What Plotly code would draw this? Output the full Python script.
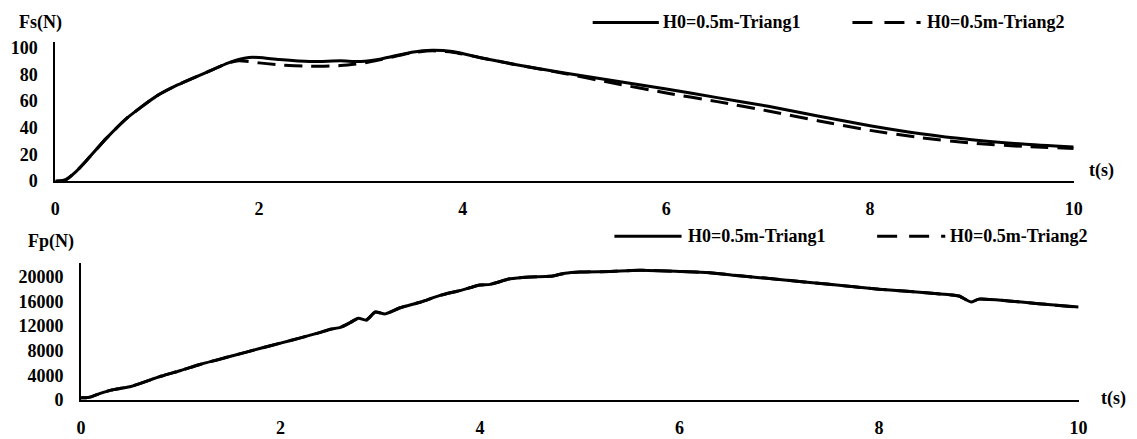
import plotly.graph_objects as go

# ---------------- data ----------------
t_fs1 = [0, 0.1, 0.2, 0.3, 0.5, 0.7, 1.0, 1.2, 1.5, 1.7, 1.8, 1.9, 2.0, 2.2, 2.5, 2.8, 3.0,
         3.2, 3.5, 3.7, 3.9, 4.2, 4.5, 5.0, 5.5, 6.0, 6.5, 7.0, 7.5, 8.0, 8.5, 9.0, 9.5, 10.0]
fs_triang1 = [0, 1, 7, 15, 32, 47, 64, 72, 82, 88.5, 91, 92.5, 92.5, 91, 89.5, 90, 89.5,
              91.5, 96.5, 98, 97, 92, 87.5, 81, 75, 69, 62.5, 56, 48.5, 41.5, 35.5, 31, 27.8, 25.5]
fs_triang2 = [0, 1, 7, 15, 32, 47, 64, 72, 82, 88.5, 90, 89.5, 88.5, 87, 86, 86.5, 88,
              91, 96, 97.5, 96.5, 92, 87.5, 80.5, 73, 66, 59.5, 52.5, 45, 38, 32.5, 28.5, 26, 24.5]

t_fp = [0, 0.05, 0.1, 0.2, 0.3, 0.4, 0.5, 0.8, 1.0, 1.2, 1.5, 1.8, 2.0, 2.2, 2.4, 2.5, 2.6,
        2.7, 2.78, 2.86, 2.95, 3.05, 3.2, 3.4, 3.6, 3.8, 4.0, 4.1, 4.3, 4.5, 4.7, 4.85, 5.0,
        5.3, 5.6, 6.0, 6.3, 6.6, 7.0, 7.5, 8.0, 8.5, 8.8, 8.92, 9.0, 9.3, 9.6, 10.0]
fp_triang1 = [350, 350, 500, 1100, 1600, 1900, 2200, 3850, 4800, 5800, 7100, 8400, 9250, 10100,
              11000, 11500, 11800, 12600, 13300, 13000, 14300, 14000, 15000, 15900, 17000, 17800,
              18700, 18800, 19700, 20000, 20100, 20600, 20800, 20900, 21100, 20900, 20700, 20200,
              19600, 18800, 18000, 17400, 16900, 15950, 16400, 16100, 15650, 15100]
fp_triang2 = list(fp_triang1)

series_names = ["H0=0.5m-Triang1", "H0=0.5m-Triang2"]
fs_ticks = [0, 20, 40, 60, 80, 100]
fp_ticks = [0, 4000, 8000, 12000, 16000, 20000]
t_ticks = [0, 2, 4, 6, 8, 10]

# ---------------- figure ----------------
W, H = 1137, 439
FONT = "Liberation Serif"
fsz = 18

def px(x):
    return x / W

def py(y):
    return (H - y) / H

fig = go.Figure()
solid = dict(color="black", width=3, shape="spline", smoothing=0.6)
dashed = dict(color="black", width=3, shape="spline", smoothing=0.6, dash="18px,9px")
fig.add_trace(go.Scatter(x=t_fs1, y=fs_triang1, mode="lines", name=series_names[0],
                         line=solid, xaxis="x", yaxis="y", showlegend=False))
fig.add_trace(go.Scatter(x=t_fs1, y=fs_triang2, mode="lines", name=series_names[1],
                         line=dashed, xaxis="x", yaxis="y", showlegend=False))
fig.add_trace(go.Scatter(x=t_fp, y=fp_triang1, mode="lines", name=series_names[0],
                         line=solid, xaxis="x2", yaxis="y2", showlegend=False))
fig.add_trace(go.Scatter(x=t_fp, y=fp_triang2, mode="lines", name=series_names[1],
                         line=dashed, xaxis="x2", yaxis="y2", showlegend=False))

tickfont = dict(family=FONT, size=fsz, color="black", weight="bold")
common_x = dict(range=[0, 10], tickvals=t_ticks, showline=True, linecolor="black", linewidth=2,
                showgrid=False, zeroline=False, ticks="", tickfont=tickfont, ticklabelstandoff=10,
                fixedrange=True)
common_y = dict(showline=True, linecolor="black", linewidth=2, showgrid=False, zeroline=False,
                ticks="", tickfont=tickfont, ticklabelstandoff=12, fixedrange=True, tickformat="d")

fig.update_layout(
    width=W, height=H,
    margin=dict(l=0, r=0, t=0, b=0),
    paper_bgcolor="white", plot_bgcolor="white",
    xaxis=dict(domain=[px(51), px(1082)], anchor="y", **common_x),
    yaxis=dict(domain=[py(183), py(39)], anchor="x", range=[0, 104.3], tickvals=fs_ticks, **common_y),
    xaxis2=dict(domain=[px(77), px(1087)], anchor="y2", **common_x),
    yaxis2=dict(domain=[py(409), py(268)], anchor="x2", range=[0, 22200], tickvals=fp_ticks,
                **common_y),
    showlegend=False,
)

# legend (manual) + titles
ann_font = dict(family=FONT, size=fsz, color="black", weight="bold")
shapes = []
annotations = []

def legend_row(y, solid_x0, solid_x1, solid_tx, dash_x0, dash_x1, dash_tx):
    shapes.append(dict(type="line", xref="paper", yref="paper", x0=px(solid_x0), x1=px(solid_x1),
                       y0=py(y), y1=py(y), line=dict(color="black", width=3)))
    shapes.append(dict(type="line", xref="paper", yref="paper", x0=px(dash_x0), x1=px(dash_x1),
                       y0=py(y), y1=py(y), line=dict(color="black", width=3, dash="20px,12px")))
    annotations.append(dict(text=series_names[0], xref="paper", yref="paper", x=px(solid_tx), y=py(y),
                            xanchor="left", yanchor="middle", showarrow=False, font=ann_font))
    annotations.append(dict(text=series_names[1], xref="paper", yref="paper", x=px(dash_tx), y=py(y),
                            xanchor="left", yanchor="middle", showarrow=False, font=ann_font))

legend_row(19, 595, 662, 664, 858, 927, 931)
legend_row(240, 617, 685, 689, 883, 952, 955)

for text, x, y in [("Fs(N)", 12, 19), ("Fp(N)", 21, 245), ("t(s)", 1095, 172), ("t(s)", 1108, 407)]:
    annotations.append(dict(text=text, xref="paper", yref="paper", x=px(x), y=py(y),
                            xanchor="left", yanchor="middle", showarrow=False, font=ann_font))

fig.update_layout(shapes=shapes, annotations=annotations)

fig.write_html("out.html")
